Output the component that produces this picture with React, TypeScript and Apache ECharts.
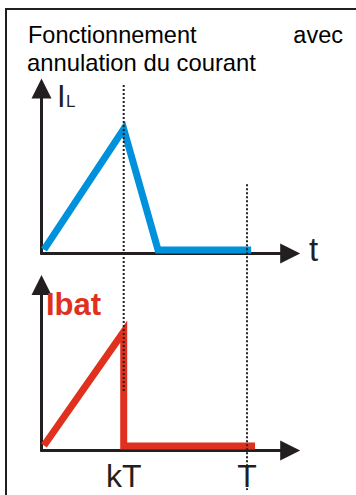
import React, { useEffect, useRef } from 'react';
import * as echarts from 'echarts';

// ---- data (time in units of T, current in units of peak) ----
const k = 0.4;
const T = 1;
const xMax = 1.21;
const yMax = 1.26;

const iLTimes = [0.012, 0.4, 0.567, 1.02];
const iLValues = [0.03, 0.95, 0.027, 0.027];

const iBatTimes = [0.012, 0.4, 0.4, 1.039];
const iBatValues = [0.038, 0.905, 0.034, 0.034];

const tickValues = [k, T];
const tickLabels = ['kT', 'T'];

// dotted guides: time and vertical extent (fraction of overlay height)
const guideTimes = [k, T];
const guideTop = [0.988, 0.746];
const guideBottom = [0.239, 0];

const titleLine1Left = 'Fonctionnement';
const titleLine1Right = 'avec';
const titleLine2 = 'annulation du courant';

const FONT = '"Liberation Sans", Arial, sans-serif';
const INK = '#231f20';
const BLUE = '#0091dc';
const RED = '#e0301e';

function axisStyle() {
  return {
    show: true,
    symbol: ['none', 'triangle'],
    symbolSize: [20, 20],
    lineStyle: { color: INK, width: 3 },
  };
}

export default function App() {
  const ref = useRef<HTMLDivElement>(null);

  useEffect(() => {
    document.body.style.margin = '0';
    const chart = echarts.init(ref.current!, undefined, { renderer: 'svg' });

    const gridLeft = 41.5;
    const gridWidth = 248.7;
    const gridRight = 356 - gridLeft - gridWidth;

    const txt = (
      text: string,
      x: number,
      y: number,
      size: number,
      color: string,
      align: string,
      bold = false
    ) => ({
      type: 'text',
      x,
      y,
      z: 20,
      style: {
        text,
        font: `${bold ? 'bold ' : ''}${size}px ${FONT}`,
        fill: color,
        align,
        verticalAlign: 'middle',
        textAlign: align,
        textVerticalAlign: 'middle',
      },
    });

    const option: any = {
      animation: false,
      backgroundColor: '#ffffff',
      grid: [
        { left: gridLeft, right: gridRight, top: 88.5, bottom: 495 - 253.5 },
        { left: gridLeft, right: gridRight, top: 285, bottom: 495 - 450.5 },
        { left: gridLeft, right: gridRight, top: 80, bottom: 5 },
      ],
      xAxis: [
        {
          gridIndex: 0,
          type: 'value',
          min: 0,
          max: xMax,
          axisLine: axisStyle(),
          axisTick: { show: false },
          axisLabel: { show: false },
          splitLine: { show: false },
        },
        {
          gridIndex: 1,
          type: 'value',
          min: 0,
          max: xMax,
          axisLine: axisStyle(),
          axisTick: { show: false },
          axisLabel: {
            show: true,
            customValues: tickValues,
            formatter: (v: number) => tickLabels[tickValues.indexOf(v)] ?? '',
            margin: 9,
            fontSize: 32,
            lineHeight: 32,
            fontFamily: FONT,
            color: INK,
          },
          splitLine: { show: false },
        },
        { gridIndex: 2, type: 'value', min: 0, max: xMax, show: false },
      ],
      yAxis: [
        {
          gridIndex: 0,
          type: 'value',
          min: 0,
          max: yMax,
          axisLine: axisStyle(),
          axisTick: { show: false },
          axisLabel: { show: false },
          splitLine: { show: false },
        },
        {
          gridIndex: 1,
          type: 'value',
          min: 0,
          max: yMax,
          axisLine: axisStyle(),
          axisTick: { show: false },
          axisLabel: { show: false },
          splitLine: { show: false },
        },
        { gridIndex: 2, type: 'value', min: 0, max: 1, show: false },
      ],
      series: [
        {
          type: 'line',
          xAxisIndex: 0,
          yAxisIndex: 0,
          data: iLTimes.map((t, i) => [t, iLValues[i]]),
          symbol: 'none',
          clip: false,
          z: 3,
          lineStyle: { color: BLUE, width: 7, join: 'miter', miterLimit: 10, cap: 'butt' },
        },
        {
          type: 'line',
          xAxisIndex: 1,
          yAxisIndex: 1,
          data: iBatTimes.map((t, i) => [t, iBatValues[i]]),
          symbol: 'none',
          clip: false,
          z: 3,
          lineStyle: { color: RED, width: 7, join: 'miter', miterLimit: 10, cap: 'butt' },
        },
        ...guideTimes.map((t, i) => ({
          type: 'line',
          xAxisIndex: 2,
          yAxisIndex: 2,
          data: [
            [t, guideTop[i]],
            [t, guideBottom[i]],
          ],
          symbol: 'none',
          clip: false,
          z: 10,
          lineStyle: { color: INK, width: 2, type: [2, 2] },
        })),
      ],
      graphic: [
        {
          type: 'polyline',
          z: 30,
          shape: { points: [[6, 495], [6, 9], [356, 9]] },
          style: { stroke: INK, lineWidth: 2, fill: 'none' },
        },
        txt(titleLine1Left, 28, 34.5, 23.5, '#000', 'left'),
        txt(titleLine1Right, 343, 34.5, 23.5, '#000', 'right'),
        txt(titleLine2, 27, 62, 23.8, '#000', 'left'),
        txt('I', 57, 96.3, 31, INK, 'left'),
        txt('L', 66, 101.1, 17, INK, 'left'),
        txt('t', 309, 249, 33, INK, 'left'),
        txt('Ibat', 46, 304.3, 31, RED, 'left', true),
      ],
    };

    chart.setOption(option);
    return () => chart.dispose();
  }, []);

  return <div ref={ref} style={{ width: 356, height: 495 }} />;
}
